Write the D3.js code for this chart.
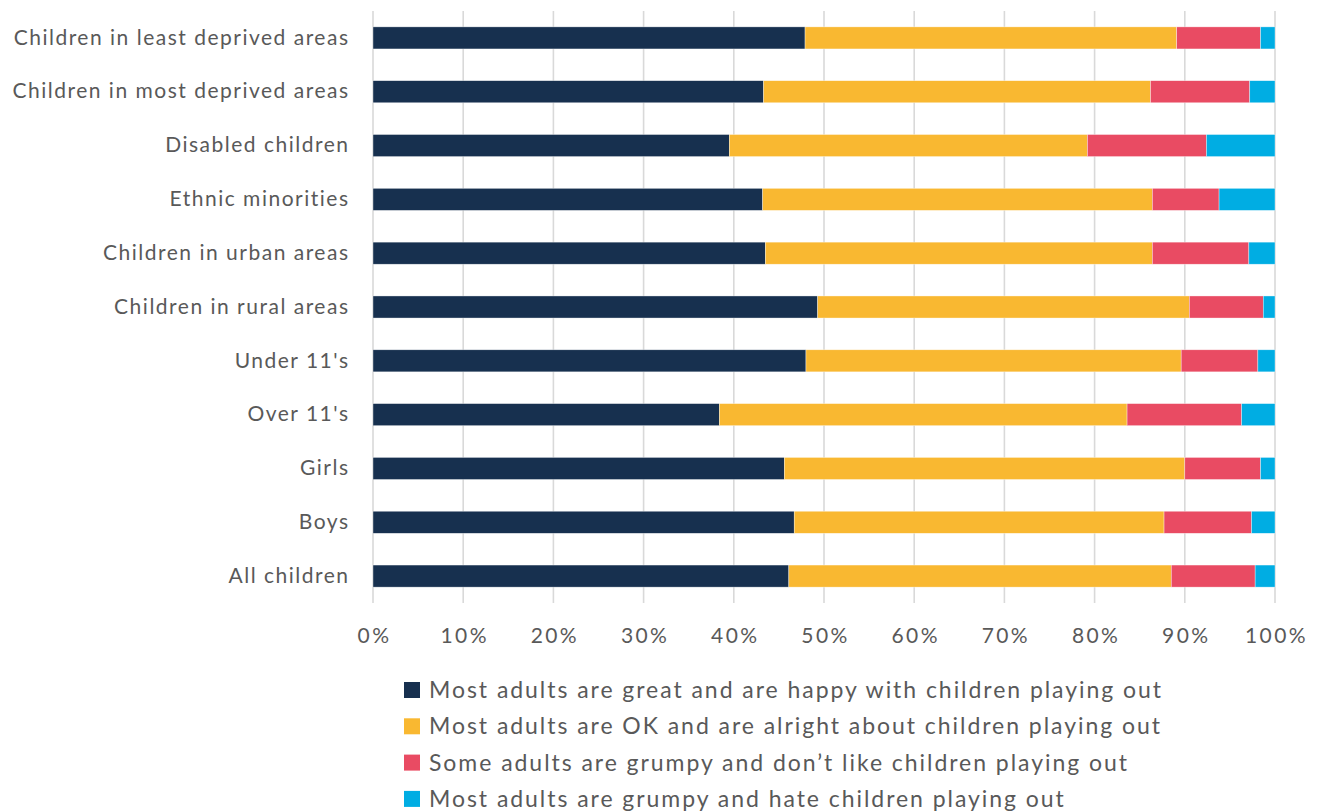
<!DOCTYPE html>
<html>
<head>
<meta charset="utf-8">
<script src="https://cdn.jsdelivr.net/npm/d3@7"></script>
<style>
  html, body { margin: 0; padding: 0; background: #fff; }
  svg { display: block; font-family: Lato, "Open Sans", sans-serif; }
</style>
</head>
<body>
<svg id="chart" width="1317" height="812"></svg>
<script>
// Groups of children, top to bottom
const categories = [
  "Children in least deprived areas",
  "Children in most deprived areas",
  "Disabled children",
  "Ethnic minorities",
  "Children in urban areas",
  "Children in rural areas",
  "Under 11's",
  "Over 11's",
  "Girls",
  "Boys",
  "All children"
];

// Share of responses (%) per group, one array per answer
const great  = [47.9, 43.3, 39.5, 43.2, 43.5, 49.3, 48.0, 38.4, 45.6, 46.7, 46.1];
const ok     = [41.2, 42.9, 39.7, 43.2, 42.9, 41.2, 41.6, 45.2, 44.4, 41.0, 42.4];
const grumpy = [ 9.3, 11.0, 13.2,  7.4, 10.7,  8.2,  8.5, 12.7,  8.4,  9.7,  9.3];
const hate   = [ 1.6,  2.8,  7.6,  6.2,  2.9,  1.3,  1.9,  3.7,  1.6,  2.6,  2.2];

const seriesNames = [
  "Most adults are great and are happy with children playing out",
  "Most adults are OK and are alright about children playing out",
  "Some adults are grumpy and don\u2019t like children playing out",
  "Most adults are grumpy and hate children playing out"
];
const seriesColors = ["#17304f", "#f9b831", "#e94b63", "#00ade3"];
const xTicks = [0, 10, 20, 30, 40, 50, 60, 70, 80, 90, 100];

const keys = ["great", "ok", "grumpy", "hate"];
const rows = categories.map((c, i) => ({
  category: c, great: great[i], ok: ok[i], grumpy: grumpy[i], hate: hate[i]
}));

const svg = d3.select("#chart");
const textColor = "#595959";

const x = d3.scaleLinear().domain([0, 100]).range([373, 1275]);
const y = d3.scaleBand().domain(categories).range([11, 603])
  .paddingInner(0.59).paddingOuter(0.295);
const color = d3.scaleOrdinal().domain(keys).range(seriesColors);

// Vertical gridlines
svg.append("g")
  .selectAll("line")
  .data(xTicks)
  .join("line")
  .attr("x1", d => x(d)).attr("x2", d => x(d))
  .attr("y1", 11).attr("y2", 603)
  .attr("stroke", "#d9d9d9")
  .attr("stroke-width", 1.6);

// Stacked bars
const stacked = d3.stack().keys(keys)(rows);
svg.append("g")
  .selectAll("g")
  .data(stacked)
  .join("g")
  .attr("fill", d => color(d.key))
  .selectAll("rect")
  .data(d => d)
  .join("rect")
  .attr("x", d => x(d[0]))
  .attr("width", d => x(d[1]) - x(d[0]))
  .attr("y", d => y(d.data.category))
  .attr("height", y.bandwidth())
  .attr("stroke", "#ffffff")
  .attr("stroke-opacity", 0.6)
  .attr("stroke-width", 0.6);

// Category labels
const yAxis = d3.axisLeft(y).tickSize(0).tickPadding(0);
const gy = svg.append("g").attr("transform", "translate(349.5,0)").call(yAxis);
gy.select(".domain").remove();
gy.selectAll("text")
  .attr("fill", textColor)
  .style("font-size", "21px")
  .style("letter-spacing", "1.5px")
  .style("font-family", "Lato, 'Open Sans', sans-serif");

// Percentage axis
const xAxis = d3.axisBottom(x).tickValues(xTicks).tickFormat(d => d + "%").tickSize(0).tickPadding(0);
const gx = svg.append("g").attr("transform", "translate(1,627)").call(xAxis);
gx.select(".domain").remove();
gx.selectAll("text")
  .attr("fill", textColor)
  .attr("dy", "0.75em")
  .style("font-size", "21px")
  .style("letter-spacing", "2.4px")
  .style("font-family", "Lato, 'Open Sans', sans-serif");

// Legend
const legend = svg.append("g").attr("transform", "translate(404,690)");
const item = legend.selectAll("g")
  .data(seriesNames)
  .join("g")
  .attr("transform", (d, i) => `translate(0,${i * 36.3})`);
item.append("rect")
  .attr("x", 0).attr("y", -8)
  .attr("width", 16).attr("height", 16)
  .attr("fill", (d, i) => seriesColors[i]);
item.append("text")
  .attr("x", 25).attr("y", 0)
  .attr("dy", "0.35em")
  .attr("fill", textColor)
  .style("font-size", "23px")
  .style("letter-spacing", "1.95px")
  .text(d => d);
</script>
</body>
</html>
